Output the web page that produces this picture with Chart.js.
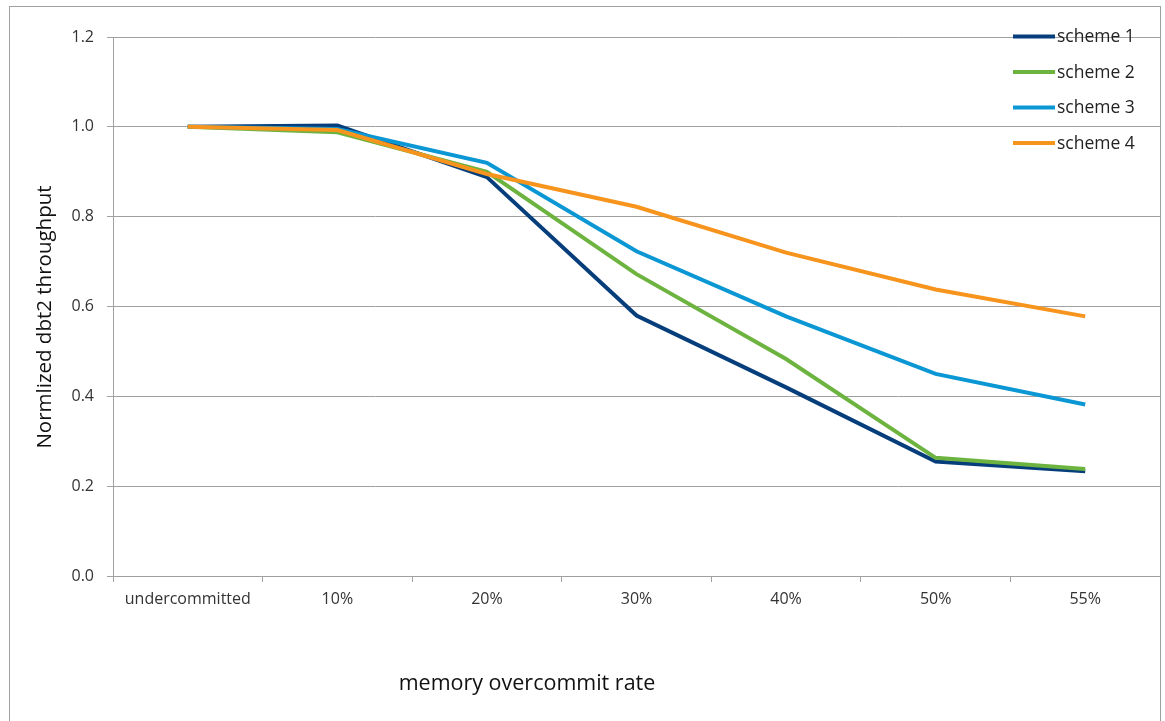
<!DOCTYPE html>
<html>
<head>
<meta charset="utf-8">
<script src="https://cdn.jsdelivr.net/npm/chart.js@4"></script>
<style>
  html, body { margin: 0; padding: 0; background: #fff; }
  #wrap { width: 1165px; height: 721px; }
</style>
</head>
<body>
<div id="wrap"><canvas id="graf"></canvas></div>
<script>
// categorias e séries
const categorias = ["undercommitted", "10%", "20%", "30%", "40%", "50%", "55%"];
const scheme1 = [1.0, 1.003, 0.888, 0.58, 0.42, 0.255, 0.233];
const scheme2 = [1.0, 0.988, 0.90, 0.672, 0.483, 0.263, 0.238];
const scheme3 = [1.0, 0.995, 0.92, 0.723, 0.578, 0.45, 0.382];
const scheme4 = [1.0, 0.993, 0.895, 0.822, 0.72, 0.638, 0.578];
const nomes = ["scheme 1", "scheme 2", "scheme 3", "scheme 4"];
const cores = ["#063e7c", "#6db33f", "#0b96d4", "#f7941d"];
const yMin = 0, yMax = 1.2, yPasso = 0.2;

const fonte = "'Open Sans', sans-serif";

// moldura, títulos dos eixos e legenda desenhados à mão
const extras = {
  id: "extras",
  beforeDraw(chart) {
    const c = chart.ctx;
    c.save();
    c.fillStyle = "#fff";
    c.fillRect(0, 0, chart.width, chart.height);
    c.strokeStyle = "#a0a0a0";
    c.lineWidth = 1;
    c.strokeRect(9.5, 6.5, 1151, 760);
    c.restore();
  },
  afterDraw(chart) {
    const c = chart.ctx;
    c.save();
    c.fillStyle = "#111";
    c.textAlign = "center";
    c.textBaseline = "middle";
    c.font = "21.5px " + fonte;
    c.fillText("memory overcommit rate", 527, 684);
    c.font = "20.5px " + fonte;
    c.translate(45, 317);
    c.rotate(-Math.PI / 2);
    c.fillText("Normlized dbt2 throughput", 0, 0);
    c.restore();

    c.save();
    c.font = "17.5px " + fonte;
    c.textAlign = "left";
    c.textBaseline = "middle";
    chart.data.datasets.forEach((ds, i) => {
      const y = 36.5 + i * 35.5;
      c.strokeStyle = ds.borderColor;
      c.lineWidth = 4;
      c.beginPath();
      c.moveTo(1013, y);
      c.lineTo(1055, y);
      c.stroke();
      c.fillStyle = "#222";
      c.fillText(ds.label, 1057, y + 1);
    });
    c.restore();
  }
};

const series = [scheme1, scheme2, scheme3, scheme4];

new Chart(document.getElementById("graf"), {
  type: "line",
  data: {
    labels: categorias,
    datasets: series.map((d, i) => ({
      label: nomes[i],
      data: d,
      borderColor: cores[i],
      backgroundColor: cores[i],
      borderWidth: 4,
      pointRadius: 0,
      tension: 0,
      fill: false,
      order: 4 - i
    }))
  },
  options: {
    responsive: true,
    maintainAspectRatio: false,
    animation: false,
    layout: { padding: { top: 37, right: 5, left: 0, bottom: 0 } },
    plugins: { legend: { display: false }, tooltip: { enabled: false } },
    scales: {
      x: {
        offset: true,
        afterFit: s => { s.height = 145; },
        grid: { offset: true, drawOnChartArea: false, color: "#a0a0a0", tickLength: 6 },
        border: { color: "#a0a0a0" },
        ticks: { color: "#333", font: { family: fonte, size: 16 }, padding: 8, maxRotation: 0 }
      },
      y: {
        min: yMin,
        max: yMax,
        afterFit: s => { s.width = 113; },
        grid: { color: "#a0a0a0", tickLength: 6 },
        border: { color: "#a0a0a0" },
        ticks: {
          stepSize: yPasso,
          color: "#333",
          font: { family: fonte, size: 16 },
          padding: 13,
          callback: v => v.toFixed(1)
        }
      }
    }
  },
  plugins: [extras]
});
</script>
</body>
</html>
